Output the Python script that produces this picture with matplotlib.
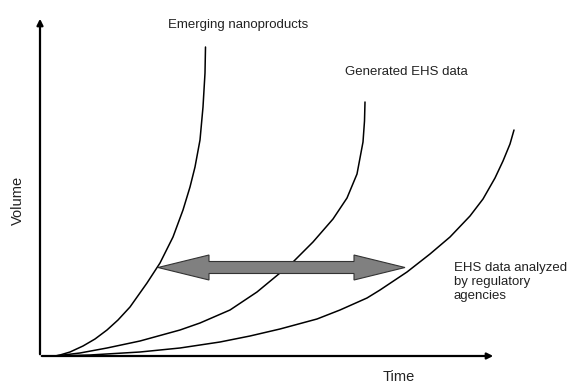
import numpy as np
import matplotlib
matplotlib.use("Agg")
import matplotlib.pyplot as plt
from matplotlib.patches import Polygon

plt.rcParams['font.family'] = ['Liberation Sans', 'DejaVu Sans']

# curves (time, volume), arbitrary units
products_t = [15, 20, 30, 43, 55, 67, 78, 90, 107, 120, 133, 143, 150, 155, 160, 163, 165, 165.5]
products_v = [0, 1, 4, 10, 17, 26, 36, 49, 73, 93, 119, 146, 169, 189, 216, 249, 283, 309]

ehs_t = [15, 40, 67, 100, 140, 160, 190, 217, 240, 253, 273, 293, 307, 317, 323, 324.5, 325]
ehs_v = [0, 3, 8, 15, 26, 33, 46, 64, 83, 94, 114, 137, 158, 182, 214, 235, 254]

analyzed_t = [15, 50, 100, 140, 180, 210, 240, 277, 300, 327, 340, 367, 390, 410,
              430, 443, 455, 463, 470, 474]
analyzed_v = [0, 1, 4, 8, 14, 20, 27, 37, 46, 58, 66, 84, 102, 119,
              140, 157, 178, 195, 212, 226]

labels = ["Emerging nanoproducts", "Generated EHS data",
          "EHS data analyzed\nby regulatory\nagencies"]


def double_arrow(ax, x0, x1, y, shaft, head, head_len, **kw):
    # outline of a block arrow with heads on both ends
    pts = [(x0, y), (x0 + head_len, y + head / 2), (x0 + head_len, y + shaft / 2),
           (x1 - head_len, y + shaft / 2), (x1 - head_len, y + head / 2), (x1, y),
           (x1 - head_len, y - head / 2), (x1 - head_len, y - shaft / 2),
           (x0 + head_len, y - shaft / 2), (x0 + head_len, y - head / 2)]
    ax.add_patch(Polygon(pts, closed=True, **kw))


fig = plt.figure(figsize=(5.72, 3.83), dpi=100)
ax = fig.add_axes([0, 0, 1, 1])
ax.set_xlim(-40, 532)
ax.set_ylim(-27, 356)
ax.axis('off')

# axes with arrow heads
ax.annotate("", xy=(456, 0), xytext=(-1, 0),
            arrowprops=dict(arrowstyle="-|>", lw=1.6, color="black", mutation_scale=9))
ax.annotate("", xy=(0, 340), xytext=(0, -1),
            arrowprops=dict(arrowstyle="-|>", lw=1.6, color="black", mutation_scale=9))

for t, v in [(products_t, products_v), (ehs_t, ehs_v), (analyzed_t, analyzed_v)]:
    ax.plot(t, v, color="black", lw=1.1, solid_capstyle="round", solid_joinstyle="round")

double_arrow(ax, 118, 365, 88.5, 12, 25, 51, facecolor="#808080",
             edgecolor="#333333", lw=0.8, zorder=3)

ax.text(128, 331, labels[0], fontsize=9.5, ha="left", va="center", color="#222222")
ax.text(305, 284, labels[1], fontsize=9.5, ha="left", va="center", color="#222222")
ax.text(414, 94, labels[2], fontsize=9.5, ha="left", va="top", linespacing=1.25,
        color="#222222")
ax.text(359, -21, "Time", fontsize=10.5, ha="center", va="center", color="#222222")
ax.text(-22, 156, "Volume", fontsize=10.5, ha="center", va="center", rotation=90,
        color="#222222")

plt.savefig("out.png", dpi=100)
